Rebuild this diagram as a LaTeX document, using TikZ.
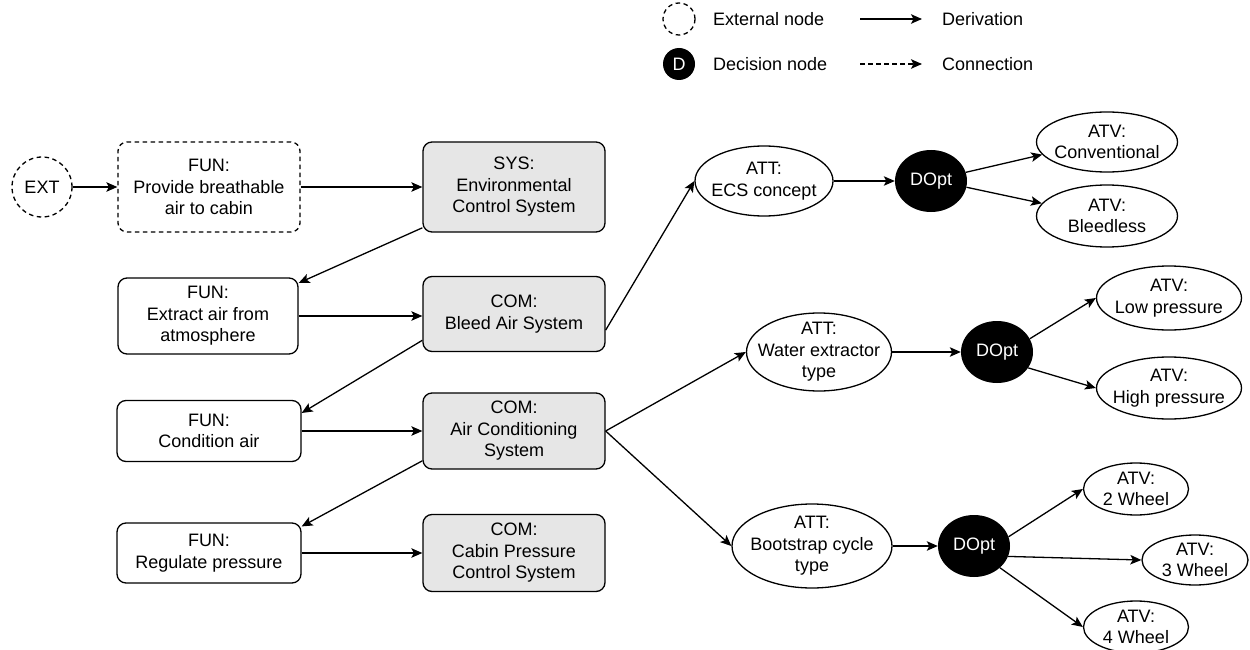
\documentclass[tikz,border=0pt]{standalone}
\usepackage{fontspec}
\setmainfont{Liberation Sans}
\usetikzlibrary{arrows.meta,shapes.geometric}
\definecolor{boxgray}{RGB}{230,230,230}
\begin{document}
\begin{tikzpicture}[x=1pt,y=-1pt,
  every node/.style={font=\fontsize{18}{21.5}\selectfont, align=center},
  ln/.style={line width=1.3pt},
  funbox/.style={draw, ln, rounded corners=9pt, fill=white, inner sep=0pt},
  combox/.style={funbox, fill=boxgray},
  dsh/.style={dash pattern=on 4.5pt off 3.5pt},
  ell/.style={draw, ln, ellipse, inner sep=0pt, fill=white},
  dopt/.style={ellipse, fill=black, text=white, inner sep=0pt, minimum width=72pt, minimum height=62pt},
  lbl/.style={inner sep=0pt},
  arr/.style={ln, -{Stealth[length=11pt,width=9.5pt,inset=2.5pt]}},
]
\useasboundingbox (0,0) rectangle (1250,650);

% legend
\node[circle, draw, ln, dsh, minimum size=32pt, inner sep=0pt] (lext) at (679,19) {};
\node[lbl, anchor=west] (lextt) at (713,19) {External node};
\node[circle, fill=black, text=white, minimum size=32pt, inner sep=0pt] (ldec) at (679,64) {D};
\node[lbl, anchor=west] (ldect) at (713,64) {Decision node};
\coordinate (lda) at (860,19);
\coordinate (ldb) at (922,19);
\draw[arr] (lda) -- (ldb);
\node[lbl, anchor=west] (lder) at (942,19) {Derivation};
\coordinate (lca) at (860,64);
\coordinate (lcb) at (922,64);
\draw[arr, dsh] (lca) -- (lcb);
\node[lbl, anchor=west] (lcon) at (942,64) {Connection};

% left column
\node[circle, draw, ln, dsh, minimum size=60pt, inner sep=0pt] (ext) at (42,187) {EXT};
\node[funbox, dsh, minimum width=182pt, minimum height=90pt] (f1) at (209,187) {FUN:\\Provide breathable\\air to cabin};
\node[combox, minimum width=182pt, minimum height=90pt] (sys) at (514,187) {SYS:\\Environmental\\Control System};
\node[funbox, minimum width=180pt, minimum height=76pt] (f2) at (208,316) {FUN:\\Extract air from\\atmosphere};
\node[combox, minimum width=182pt, minimum height=75pt] (c1) at (514,314) {COM:\\Bleed Air System};
\node[funbox, minimum width=184pt, minimum height=61pt] (f3) at (209,431) {FUN:\\Condition air};
\node[combox, minimum width=182pt, minimum height=76pt] (c2) at (514,431) {COM:\\Air Conditioning\\System};
\node[funbox, minimum width=184pt, minimum height=60pt] (f4) at (209,553) {FUN:\\Regulate pressure};
\node[combox, minimum width=182pt, minimum height=77pt] (c3) at (514,553) {COM:\\Cabin Pressure\\Control System};

% attributes
\node[ell, minimum width=138pt, minimum height=70pt] (a1) at (764,181) {};
\node[lbl] (a1t) at (a1) {ATT:\\ECS concept};
\node[ell, minimum width=145pt, minimum height=78pt] (a2) at (819,352) {};
\node[lbl] (a2t) at (a2) {ATT:\\Water extractor\\type};
\node[ell, minimum width=160pt, minimum height=84pt] (a3) at (812,546) {};
\node[lbl] (a3t) at (a3) {ATT:\\Bootstrap cycle\\type};

% decisions
\node[dopt] (d1) at (931,181) {DOpt};
\node[dopt] (d2) at (997,352) {DOpt};
\node[dopt] (d3) at (974,546) {DOpt};

% values
\node[ell, minimum width=141pt, minimum height=60pt] (v1) at (1107,142) {};
\node[lbl] (v1t) at (v1) {ATV:\\Conventional};
\node[ell, minimum width=141pt, minimum height=62pt] (v2) at (1107,216) {};
\node[lbl] (v2t) at (v2) {ATV:\\Bleedless};
\node[ell, minimum width=145pt, minimum height=64pt] (v3) at (1169,298) {};
\node[lbl] (v3t) at (v3) {ATV:\\Low pressure};
\node[ell, minimum width=145pt, minimum height=62pt] (v4) at (1169,388) {};
\node[lbl] (v4t) at (v4) {ATV:\\High pressure};
\node[ell, minimum width=105pt, minimum height=52pt] (w2) at (1136,489) {};
\node[lbl] (w2t) at (w2) {ATV:\\2 Wheel};
\node[ell, minimum width=106pt, minimum height=50pt] (w3) at (1195,560) {};
\node[lbl] (w3t) at (w3) {ATV:\\3 Wheel};
\node[ell, minimum width=105pt, minimum height=52pt] (w4) at (1136,627) {};
\node[lbl] (w4t) at (w4) {ATV:\\4 Wheel};

% connectors
\draw[arr] (ext.east) -- (f1.west);
\draw[arr] (f1.east) -- (sys.west);
\draw[arr] (sys.204) -- (f2.20);
\draw[arr] (f2.east) -- (f2.east -| c1.west);
\draw[arr] (c1.196) -- (f3.11);
\draw[arr] (f3.east) -- (f3.east -| c2.west);
\draw[arr] (c2.198) -- (f4.16);
\draw[arr] (f4.east) -- (f4.east -| c3.west);
\draw[arr] (c1.350) -- (a1.west);
\draw[arr] (c2.east) -- (a2.west);
\draw[arr] (c2.east) -- (a3.west);
\draw[arr] (a1.east) -- (d1.west);
\draw[arr] (a2.east) -- (d2.west);
\draw[arr] (a3.east) -- (d3.west);
\draw[arr] (d1.14) -- (v1.191);
\draw[arr] (d1.-10) -- (v2.169);
\draw[arr] (d2.22) -- (v3.west);
\draw[arr] (d2.-27) -- (v4.west);
\draw[arr] (d3.15) -- (w2.west);
\draw[arr] (d3.-17) -- (w3.west);
\draw[arr] (d3.-40) -- (w4.west);
\end{tikzpicture}
\end{document}
